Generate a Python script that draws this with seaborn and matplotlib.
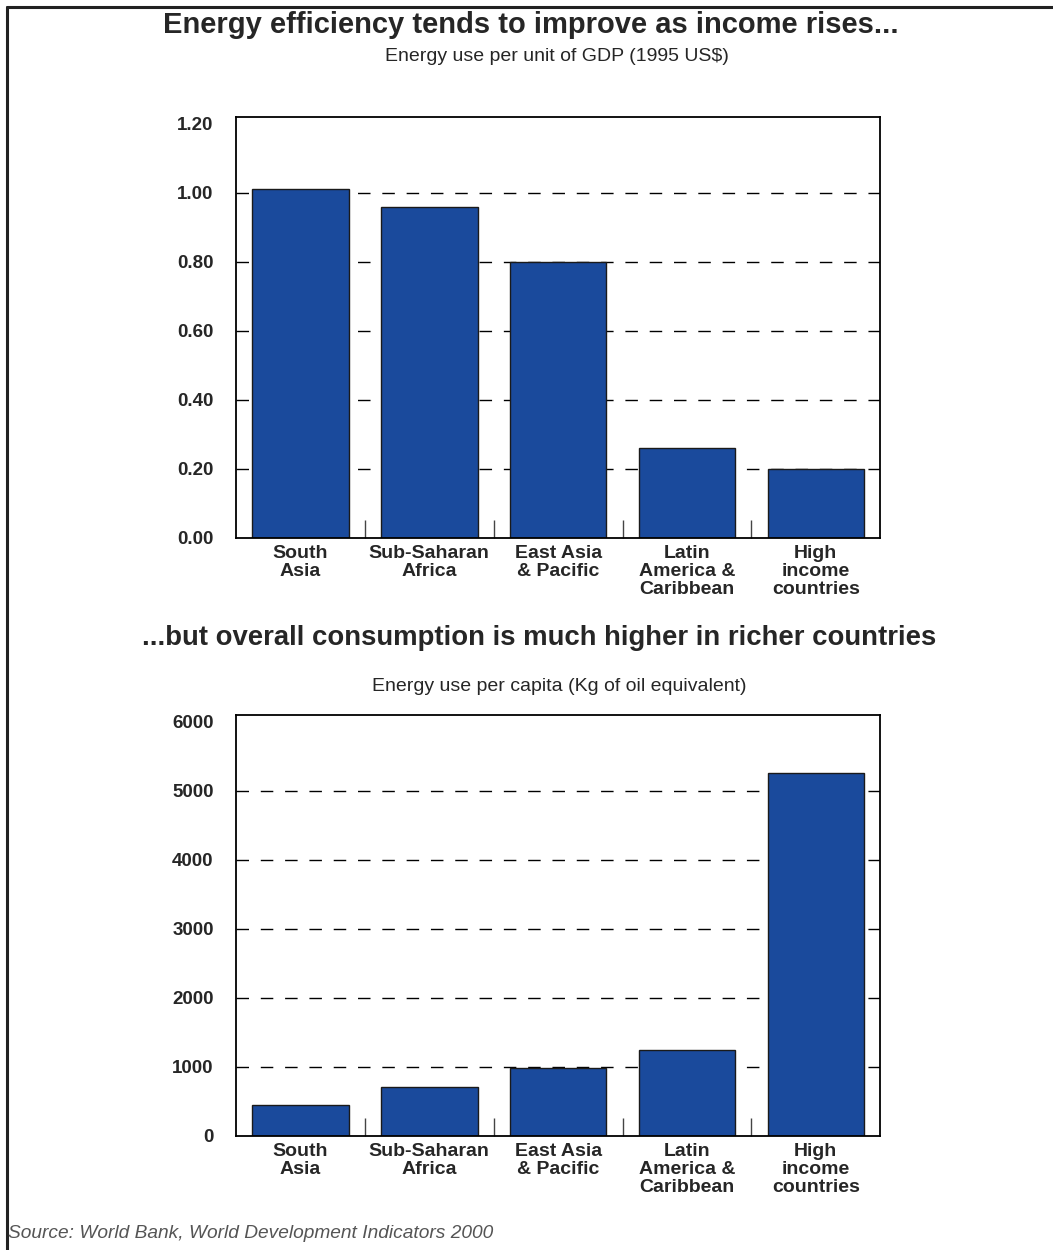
"""
Energy use by region: intensity vs per-capita consumption
"""

# Dependencies
import matplotlib
matplotlib.use('Agg')
import matplotlib.pyplot as plt
from matplotlib.lines import Line2D
import seaborn as sns
import pandas as pd

# Data
regions = ['South\nAsia', 'Sub-Saharan\nAfrica', 'East Asia\n& Pacific',
           'Latin\nAmerica &\nCaribbean', 'High\nincome\ncountries']
energy_per_gdp = [1.01, 0.96, 0.80, 0.26, 0.20]
energy_per_capita = [452, 703, 981, 1250, 5260]
gdp_ticks = [0.0, 0.2, 0.4, 0.6, 0.8, 1.0, 1.2]
gdp_tick_labels = ['0.00', '0.20', '0.40', '0.60', '0.80', '1.00', '1.20']
cap_ticks = [0, 1000, 2000, 3000, 4000, 5000, 6000]
cap_tick_labels = ['0', '1000', '2000', '3000', '4000', '5000', '6000']

df_gdp = pd.DataFrame({'region': regions, 'value': energy_per_gdp})
df_cap = pd.DataFrame({'region': regions, 'value': energy_per_capita})

# Style
sns.set_style('white')
plt.rcParams['font.family'] = ['Liberation Sans', 'DejaVu Sans']
narrow = ['Liberation Sans Narrow', 'Liberation Sans', 'DejaVu Sans']
bar_color = '#1a4a9c'

fig = plt.figure(figsize=(10.53, 12.5), dpi=100)
ax1 = fig.add_axes([0.224, 0.5696, 0.612, 0.3368])
ax2 = fig.add_axes([0.224, 0.0912, 0.612, 0.3368])


def style_panel(ax, df, ticks, tick_labels, ylim):
    sns.barplot(data=df, x='region', y='value', color=bar_color, width=0.75,
                edgecolor='#1a1a1a', linewidth=1, saturation=1, ax=ax)
    ax.set_ylim(*ylim)
    ax.set_xlim(-0.5, 4.5)
    ax.set_yticks(ticks)
    ax.set_yticklabels(tick_labels, fontsize=13.5, fontweight='bold')
    ax.set_xticks(range(len(regions)))
    ax.set_xticklabels(regions, fontsize=14, fontweight='bold',
                       family=narrow, linespacing=1.08, va='top')
    ax.set_xticks([0.5, 1.5, 2.5, 3.5], minor=True)
    ax.tick_params(axis='x', which='both', bottom=True)
    ax.tick_params(axis='x', which='major', length=0, pad=5)
    ax.tick_params(axis='x', which='minor', direction='in', length=13,
                   width=1, color='#444444')
    ax.tick_params(axis='y', length=0, pad=16)
    ax.set_xlabel('')
    ax.set_ylabel('')
    ax.set_axisbelow(True)
    # dashed guides at the inner ticks only (not at zero or the top)
    for t in ticks[1:-1]:
        ax.axhline(t, color='black', linewidth=1, linestyle=(0, (9, 8.5)), zorder=0)
    for s in ax.spines.values():
        s.set_visible(True)
        s.set_color('black')
        s.set_linewidth(1.3)


style_panel(ax1, df_gdp, gdp_ticks, gdp_tick_labels, (0, 1.22))
style_panel(ax2, df_cap, cap_ticks, cap_tick_labels, (0, 6100))

# Titles
fig.text(0.504, 0.9736, 'Energy efficiency tends to improve as income rises...',
         ha='center', va='baseline', fontsize=21, fontweight='heavy', family=narrow)
fig.text(0.529, 0.955, 'Energy use per unit of GDP (1995 US$)',
         ha='center', va='center', fontsize=14, family=narrow)
fig.text(0.512, 0.4895, '...but overall consumption is much higher in richer countries',
         ha='center', va='center', fontsize=19.8, fontweight='heavy', family=narrow)
fig.text(0.531, 0.4505, 'Energy use per capita (Kg of oil equivalent)',
         ha='center', va='center', fontsize=14, family=narrow)
fig.text(0.008, 0.0135, 'Source: World Bank, World Development Indicators 2000',
         ha='left', va='center', fontsize=13.8, style='italic', color='#555555')

# Frame (top and left rules)
fig.add_artist(Line2D([0.0066, 1.0], [0.9944, 0.9944], color='#222222', linewidth=2.2))
fig.add_artist(Line2D([0.0066, 0.0066], [0.0, 0.9944], color='#222222', linewidth=2.2))

plt.savefig('out.png', dpi=100)
plt.close()
